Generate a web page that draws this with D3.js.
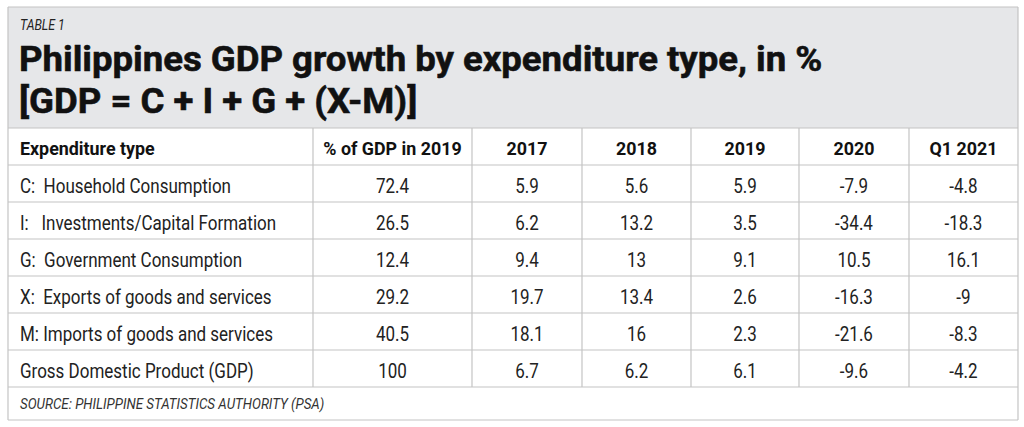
<!DOCTYPE html>
<html>
<head>
<meta charset="utf-8">
<script src="https://cdn.jsdelivr.net/npm/d3@7"></script>
<style>
  body { margin: 0; background: #fff; }
  svg { display: block; }
</style>
</head>
<body>
<svg id="chart"></svg>
<script>
// data
const columns = ["Expenditure type", "% of GDP in 2019", "2017", "2018", "2019", "2020", "Q1 2021"];
const expenditureTypes = [
  "C:  Household Consumption",
  "I:   Investments/Capital Formation",
  "G:  Government Consumption",
  "X:  Exports of goods and services",
  "M: Imports of goods and services",
  "Gross Domestic Product (GDP)"
];
const shareOfGdp2019 = ["72.4", "26.5", "12.4", "29.2", "40.5", "100"];
const growth2017 = ["5.9", "6.2", "9.4", "19.7", "18.1", "6.7"];
const growth2018 = ["5.6", "13.2", "13", "13.4", "16", "6.2"];
const growth2019 = ["5.9", "3.5", "9.1", "2.6", "2.3", "6.1"];
const growth2020 = ["-7.9", "-34.4", "10.5", "-16.3", "-21.6", "-9.6"];
const growthQ12021 = ["-4.8", "-18.3", "16.1", "-9", "-8.3", "-4.2"];
const tableLabel = "TABLE 1";
const titleLines = ["Philippines GDP growth by expenditure type, in %", "[GDP = C + I + G + (X-M)]"];
const source = "SOURCE: PHILIPPINE STATISTICS AUTHORITY (PSA)";

// constants
const width = 1024;
const height = 427;
const box = { left: 8, right: 1018, top: 7, bottom: 420 };
const headTop = 128;
const headRowBottom = 165;
const bodyBottom = 387;
const colEdges = [8, 313, 472, 582, 691, 799, 909, 1018];
const lineColor = "#c4c4c4";
const font = "Roboto, 'Noto Sans', sans-serif";

const svg = d3.select('#chart')
  .attr('width', width)
  .attr('height', height);

// squeeze text horizontally (the original uses a condensed face)
const place = (sel, fx, fy, k) => sel
  .attr('transform', (d, i) => `translate(${fx(d, i)},${fy(d, i)}) scale(${k},1)`);

// rows of values, one per expenditure type
const rows = expenditureTypes.map((t, i) => [t, shareOfGdp2019[i], growth2017[i], growth2018[i], growth2019[i], growth2020[i], growthQ12021[i]]);

const y = d3.scaleBand()
  .domain(d3.range(rows.length))
  .range([headRowBottom, bodyBottom]);

const x = d3.scaleOrdinal()
  .domain(columns)
  .range(columns.map((c, i) => i === 0 ? colEdges[0] + 12 : (colEdges[i] + colEdges[i + 1]) / 2));

// header block
svg.append('rect')
  .attr('x', box.left).attr('y', box.top)
  .attr('width', box.right - box.left).attr('height', headTop - box.top)
  .attr('fill', '#e6e7e9');

svg.append('text')
  .call(place, () => 20, () => 30, 0.88)
  .attr('font-family', font)
  .attr('font-style', 'italic')
  .attr('font-size', 14)
  .attr('fill', '#222')
  .text(tableLabel);

svg.selectAll('.title')
  .data(titleLines)
  .enter().append('text')
  .attr('class', 'title')
  .call(place, () => 19, (d, i) => 71 + i * 42, 1.015)
  .attr('font-family', font)
  .attr('font-weight', 'bold')
  .attr('font-size', 36)
  .attr('fill', '#111')
  .attr('stroke', '#111')
  .attr('stroke-width', 0.6)
  .text(d => d);

// grid
const hLines = [headTop, headRowBottom, ...d3.range(rows.length).map(i => y(i) + y.bandwidth()), box.bottom];
svg.selectAll('.hline')
  .data(hLines)
  .enter().append('line')
  .attr('x1', box.left).attr('x2', box.right)
  .attr('y1', d => d).attr('y2', d => d)
  .attr('stroke', lineColor).attr('stroke-width', 1.2);

svg.selectAll('.vline')
  .data(colEdges)
  .enter().append('line')
  .attr('x1', d => d).attr('x2', d => d)
  .attr('y1', (d, i) => (i === 0 || i === colEdges.length - 1) ? box.top : headTop)
  .attr('y2', (d, i) => (i === 0 || i === colEdges.length - 1) ? box.bottom : bodyBottom)
  .attr('stroke', lineColor).attr('stroke-width', 1.2);

svg.append('line')
  .attr('x1', box.left).attr('x2', box.right)
  .attr('y1', box.top).attr('y2', box.top)
  .attr('stroke', lineColor).attr('stroke-width', 1.2);

// column headings
svg.selectAll('.colhead')
  .data(columns)
  .enter().append('text')
  .call(place, d => x(d), () => 155, 0.94)
  .attr('text-anchor', (d, i) => i === 0 ? 'start' : 'middle')
  .attr('font-family', font)
  .attr('font-weight', 'bold')
  .attr('font-size', 19)
  .attr('fill', '#111')
  .text(d => d);

// body cells
const rowG = svg.selectAll('.row')
  .data(rows)
  .enter().append('g')
  .attr('transform', (d, i) => `translate(0,${y(i) + y.bandwidth() / 2 + 9.5})`);

rowG.selectAll('text')
  .data(d => d)
  .enter().append('text')
  .call(place, (d, i) => x(columns[i]), () => 0, 0.85)
  .attr('text-anchor', (d, i) => i === 0 ? 'start' : 'middle')
  .attr('font-family', font)
  .attr('font-size', 20)
  .attr('fill', '#222')
  .attr('xml:space', 'preserve')
  .style('white-space', 'pre')
  .text(d => d);

// source
svg.append('text')
  .call(place, () => 20, () => 409, 0.89)
  .attr('font-family', font)
  .attr('font-style', 'italic')
  .attr('font-size', 15)
  .attr('fill', '#333')
  .text(source);
</script>
</body>
</html>
